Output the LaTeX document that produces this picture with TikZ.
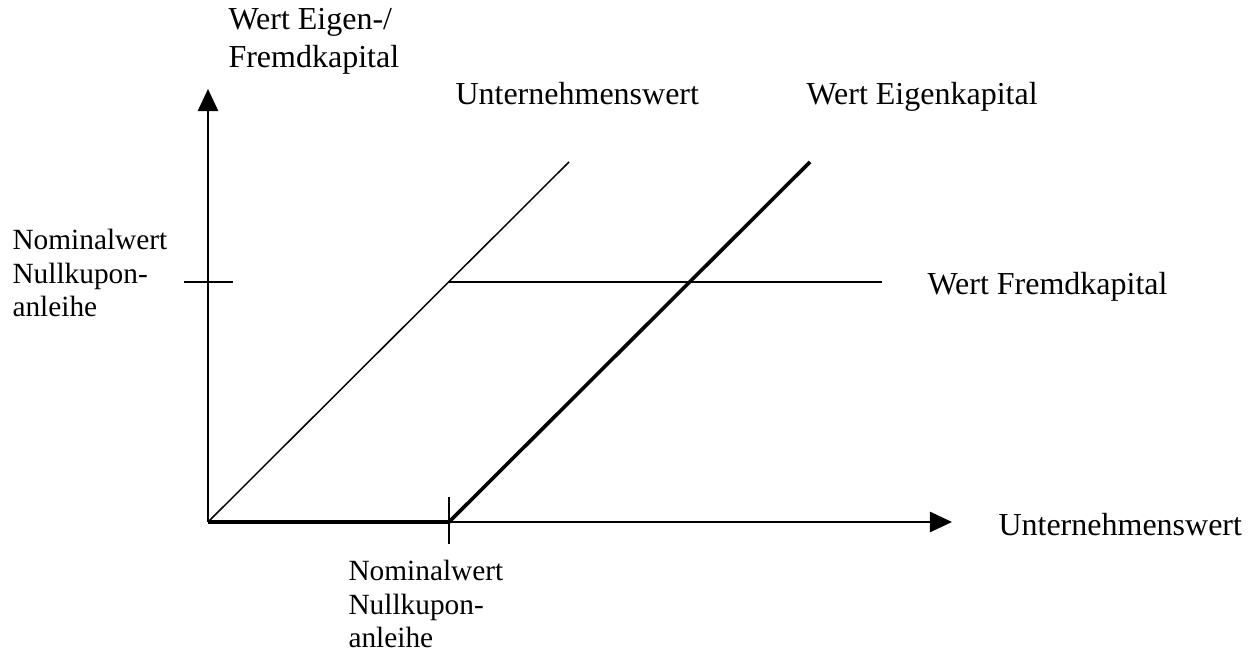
\documentclass[tikz,border=0pt]{standalone}
\usepackage{fontspec}
\setmainfont{Liberation Serif}
\usetikzlibrary{arrows.meta}
\begin{document}
\begin{tikzpicture}[x=0.375pt,y=-0.375pt,
  axis/.style={line width=0.75pt,-{Triangle[length=8.3pt,width=7.6pt]}},
  tickmark/.style={line width=0.7pt},
  thinline/.style={line width=0.55pt},
  flatline/.style={line width=0.7pt},
  thickline/.style={line width=1.35pt,line join=miter},
  lbl/.style={inner sep=0pt,anchor=base west,align=left,font=\fontsize{12}{14.6}\selectfont},
  smalllbl/.style={inner sep=0pt,anchor=base west,align=left,font=\fontsize{11}{12.65}\selectfont}]
\useasboundingbox (0,0) rectangle (1249,651);
% axes
\coordinate (O) at (208,522);
\coordinate (ytip) at (208,89);
\coordinate (xtip) at (952,522);
\draw[axis] (O) -- (ytip);
\draw[axis] (O) -- (xtip);
% key points
\coordinate (K) at (449,522);
\coordinate (B) at (449,282);
\coordinate (Uend) at (569,162);
\coordinate (Eend) at (810,162);
\coordinate (Fend) at (882,282);
% tick marks
\coordinate (xt1) at (449,497);
\coordinate (xt2) at (449,544);
\coordinate (yt1) at (184,282);
\coordinate (yt2) at (233,282);
\draw[tickmark] (xt1) -- (xt2);
\draw[tickmark] (yt1) -- (yt2);
% firm value, debt and equity
\draw[thinline] (O) -- (Uend);
\draw[flatline] (B) -- (Fend);
\draw[thickline] (O) -- (K) -- (Eend);
% labels (multi-line nodes are placed by the baseline of their last line)
\node[lbl] (ylab) at (228,68) {Wert Eigen-/\\Fremdkapital};
\node[lbl] (ulab) at (455,105) {Unternehmenswert};
\node[lbl] (elab) at (806,105) {Wert Eigenkapital};
\node[lbl] (flab) at (927,295) {Wert Fremdkapital};
\node[lbl] (xlab) at (998,536) {Unternehmenswert};
\node[smalllbl] (nomy) at (12,317) {Nominalwert\\Nullkupon-\\anleihe};
\node[smalllbl] (nomx) at (348,648) {Nominalwert\\Nullkupon-\\anleihe};
\end{tikzpicture}
\end{document}
